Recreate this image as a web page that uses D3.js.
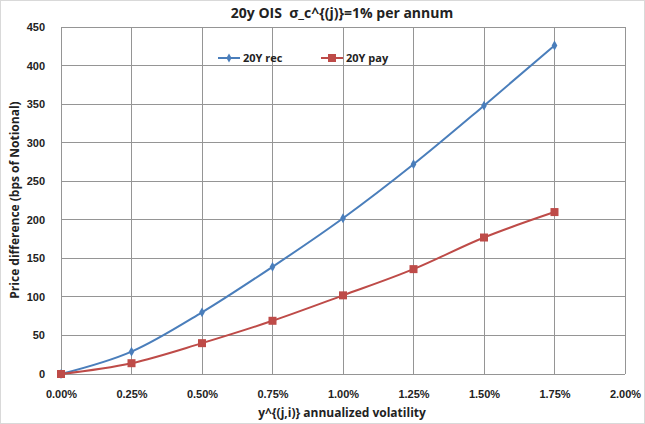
<!DOCTYPE html>
<html><head><meta charset="utf-8">
<script src="https://cdn.jsdelivr.net/npm/d3@7"></script>
<style>body{margin:0;background:#fff;} svg{display:block;font-family:"Open Sans","Liberation Sans",sans-serif;}</style>
</head><body>
<svg id="c" width="645" height="424"></svg>
<script>
const xVals = [0, 0.0025, 0.005, 0.0075, 0.01, 0.0125, 0.015, 0.0175];
const recVals = [0, 29, 80, 139, 202, 272, 348, 426];
const payVals = [0, 14, 40, 69, 102, 136, 177, 210];
const xTicks = [0, 0.0025, 0.005, 0.0075, 0.01, 0.0125, 0.015, 0.0175, 0.02];
const yTicks = [0, 50, 100, 150, 200, 250, 300, 350, 400, 450];
const seriesNames = ["20Y rec", "20Y pay"];
const colors = ["#4a7ebb", "#be4b48"];

const svg = d3.select("#c");
svg.append("rect").attr("x",0.5).attr("y",0.5).attr("width",644).attr("height",423).attr("fill","#fff").attr("stroke","#d9d9d9");
const x = d3.scaleLinear().domain([0,0.02]).range([61,625]);
const y = d3.scaleLinear().domain([0,450]).range([374,27]);

const g = svg.append("g");
g.selectAll(".hg").data(yTicks).join("line").attr("x1",x(0)).attr("x2",x(0.02))
  .attr("y1",d=>y(d)).attr("y2",d=>y(d)).attr("stroke","#959595").attr("stroke-width",1).attr("shape-rendering","crispEdges");
g.selectAll(".vg").data(xTicks).join("line").attr("y1",y(0)).attr("y2",y(450))
  .attr("x1",d=>x(d)).attr("x2",d=>x(d)).attr("stroke","#959595").attr("stroke-width",1).attr("shape-rendering","crispEdges");

const xAxis = d3.axisBottom(x).tickValues(xTicks).tickFormat(d3.format(".2%")).tickSize(0).tickPadding(16);
const ax = svg.append("g").attr("transform",`translate(0,${y(0)})`).call(xAxis);
ax.select(".domain").remove();
ax.selectAll("text").attr("font-size",11).attr("font-weight","bold").attr("fill","#222");
const yAxis = d3.axisLeft(y).tickValues(yTicks).tickSize(0).tickPadding(4);
const ay = svg.append("g").attr("transform",`translate(${x(0)-12},0)`).call(yAxis);
ay.select(".domain").remove();
ay.selectAll("text").attr("font-size",11).attr("font-weight","bold").attr("fill","#222");

const data = [recVals, payVals];
const line = d3.line().x((d,i)=>x(xVals[i])).y(d=>y(d)).curve(d3.curveMonotoneX);
data.forEach((vals,k)=>{
  svg.append("path").attr("d",line(vals)).attr("fill","none").attr("stroke",colors[k]).attr("stroke-width",2);
});
svg.selectAll(".dm").data(recVals).join("path")
  .attr("d",d3.symbol(d3.symbolDiamond,28)).attr("transform",(d,i)=>`translate(${x(xVals[i])},${y(d)})`).attr("fill",colors[0]);
svg.selectAll(".sm").data(payVals).join("rect")
  .attr("x",(d,i)=>x(xVals[i])-4).attr("y",d=>y(d)-4).attr("width",8).attr("height",8).attr("fill",colors[1]);

const leg = [{x:218, name:seriesNames[0]},{x:321, name:seriesNames[1]}];
leg.forEach((l,k)=>{
  svg.append("line").attr("x1",l.x).attr("x2",l.x+22).attr("y1",58).attr("y2",58).attr("stroke",colors[k]).attr("stroke-width",2);
  if(k===0) svg.append("path").attr("d",d3.symbol(d3.symbolDiamond,24)).attr("transform",`translate(${l.x+11},58)`).attr("fill",colors[0]);
  else svg.append("rect").attr("x",l.x+7).attr("y",54).attr("width",8).attr("height",8).attr("fill",colors[1]);
  svg.append("text").attr("x",l.x+25).attr("y",62).attr("font-size",11).attr("font-weight","bold").attr("fill","#222").text(l.name);
});

svg.append("text").attr("x",342).attr("y",18).attr("text-anchor","middle").attr("font-size",14).attr("font-weight","bold").attr("fill","#222").attr("xml:space","preserve").style("white-space","pre").text("20y OIS  σ_c^{(j)}=1% per annum");
svg.append("text").attr("x",342).attr("y",417).attr("text-anchor","middle").attr("font-size",12).attr("font-weight","bold").attr("fill","#222").text("y^{(j,i)} annualized volatility");
svg.append("text").attr("transform","translate(19,200) rotate(-90)").attr("text-anchor","middle").attr("font-size",12).attr("font-weight","bold").attr("fill","#222").text("Price difference (bps of Notional)");
</script>
</body></html>
